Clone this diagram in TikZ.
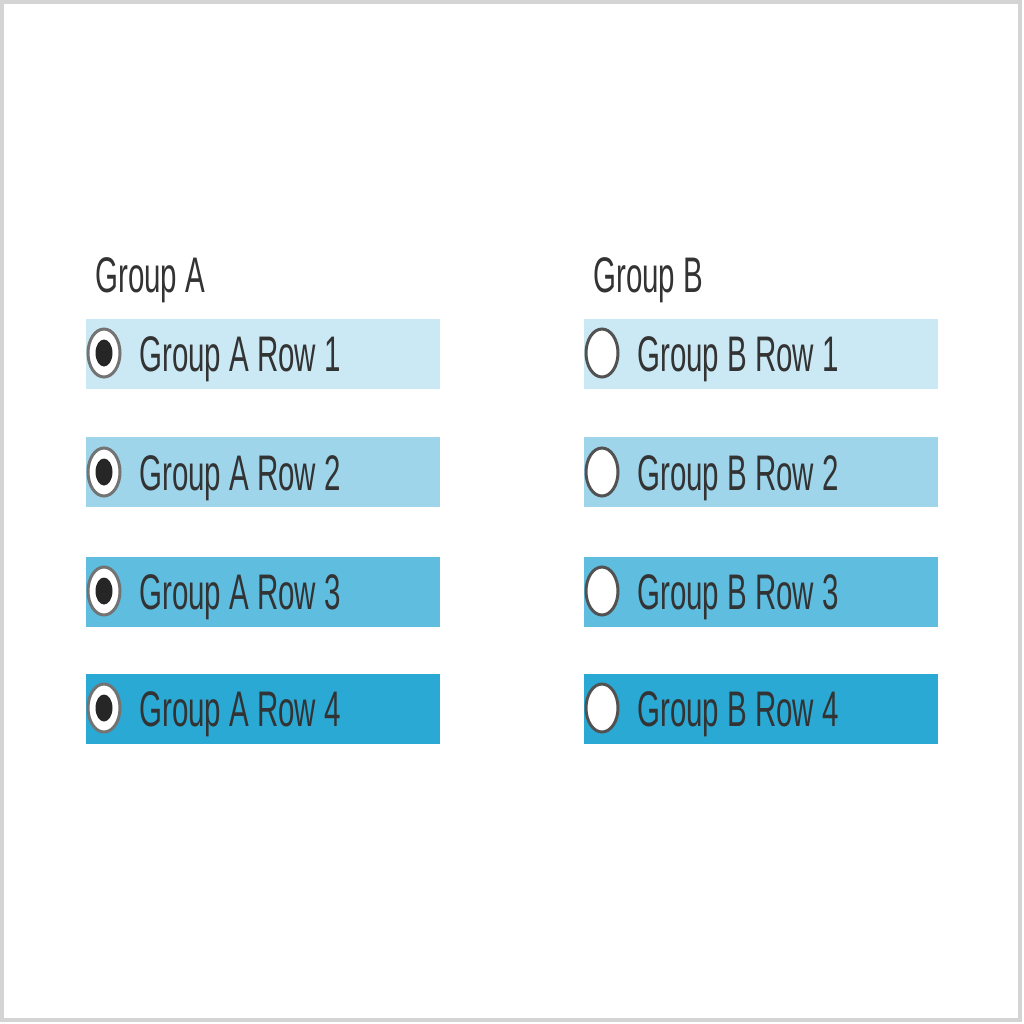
\documentclass[tikz,border=0pt]{standalone}
\usepackage{fontspec}
\setmainfont{Liberation Sans}
\definecolor{rowa}{HTML}{CBE9F4}
\definecolor{rowb}{HTML}{9ED5EB}
\definecolor{rowc}{HTML}{5FBDE0}
\definecolor{rowd}{HTML}{2AA9D5}
\definecolor{txt}{HTML}{333333}
\definecolor{frame}{HTML}{D4D4D4}
\tikzset{
  rowbox/.style={draw=none, rectangle, inner sep=0, minimum width=177pt, minimum height=35pt, anchor=north west},
  lbl/.style={font=\fontsize{25}{25}\selectfont, text=txt, inner sep=0, anchor=base west, xscale=0.59},
  radioon/.style={ellipse, draw=black!55, line width=1.5pt, fill=white, inner sep=0, minimum width=16pt, minimum height=24pt},
  radiooff/.style={ellipse, draw=txt!85, line width=1.5pt, fill=white, inner sep=0, minimum width=16pt, minimum height=24pt},
  dot/.style={ellipse, fill=black!85, inner sep=0, minimum width=8.5pt, minimum height=13.5pt}
}
\usetikzlibrary{shapes.geometric}
\begin{document}
\begin{tikzpicture}[x=0.5pt,y=-0.5pt]
\useasboundingbox (0,0) rectangle (1024,1024);
\fill[white] (0,0) rectangle (1024,1024);
\draw[frame, line width=2pt] (2,2) rectangle (1020,1020);
% group labels
\node[lbl] (ga) at (95,292) {Group A};
\node[lbl] (gb) at (593,292) {Group B};
% rows
\node[rowbox, fill=rowa] (a1) at (86,319) {};
\node[rowbox, fill=rowb] (a2) at (86,437) {};
\node[rowbox, fill=rowc] (a3) at (86,557) {};
\node[rowbox, fill=rowd] (a4) at (86,674) {};
\node[rowbox, fill=rowa] (b1) at (584,319) {};
\node[rowbox, fill=rowb] (b2) at (584,437) {};
\node[rowbox, fill=rowc] (b3) at (584,557) {};
\node[rowbox, fill=rowd] (b4) at (584,674) {};
% radios A
\node[radioon] (ra1) at (104,353) {};
\node[dot] (da1) at (ra1) {};
\node[radioon] (ra2) at (104,472) {};
\node[dot] (da2) at (ra2) {};
\node[radioon] (ra3) at (104,591) {};
\node[dot] (da3) at (ra3) {};
\node[radioon] (ra4) at (104,708) {};
\node[dot] (da4) at (ra4) {};
% radios B
\node[radiooff] (rb1) at (602,353) {};
\node[radiooff] (rb2) at (602,472) {};
\node[radiooff] (rb3) at (602,591) {};
\node[radiooff] (rb4) at (602,708) {};
% texts
\node[lbl] (ta1) at (139,371) {Group A Row 1};
\node[lbl] (ta2) at (139,490) {Group A Row 2};
\node[lbl] (ta3) at (139,609) {Group A Row 3};
\node[lbl] (ta4) at (139,726) {Group A Row 4};
\node[lbl] (tb1) at (637,371) {Group B Row 1};
\node[lbl] (tb2) at (637,490) {Group B Row 2};
\node[lbl] (tb3) at (637,609) {Group B Row 3};
\node[lbl] (tb4) at (637,726) {Group B Row 4};
\end{tikzpicture}
\end{document}
